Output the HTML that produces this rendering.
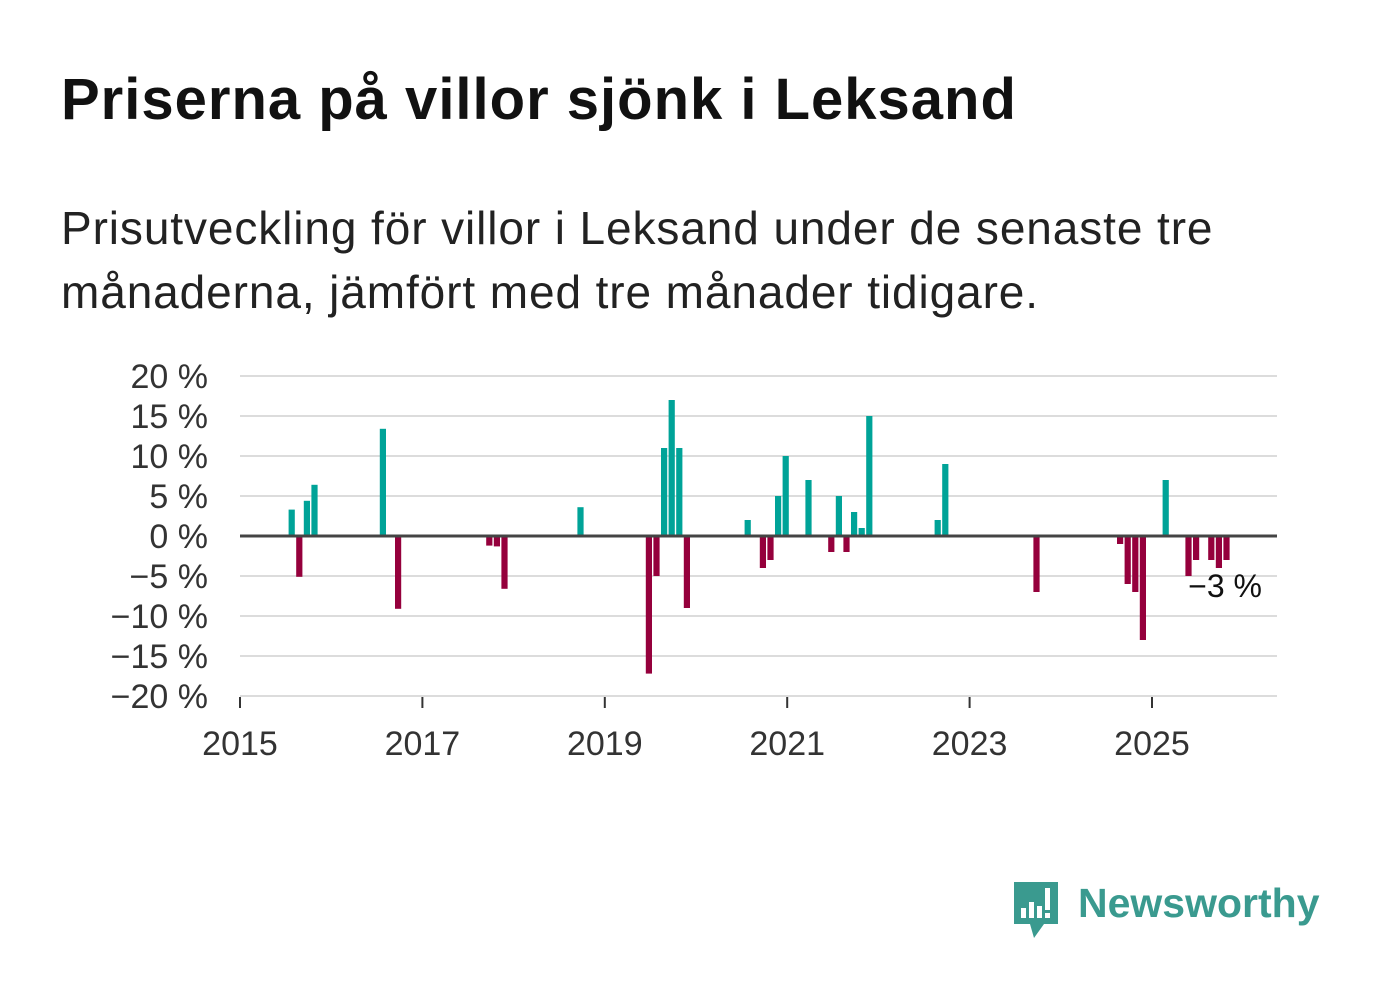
<!DOCTYPE html>
<html><head><meta charset="utf-8">
<style>
body{margin:0;background:#fff;width:1382px;height:999px;overflow:hidden;font-family:"Liberation Sans","DejaVu Sans",sans-serif;}
#title{position:absolute;left:61px;top:66px;font-size:58px;font-weight:bold;color:#111;margin:0;letter-spacing:1px}
#sub{position:absolute;left:61px;top:196px;font-size:46px;color:#222;line-height:64px;width:1280px;margin:0;letter-spacing:0.9px}
svg{position:absolute;left:0;top:0}
</style></head><body>
<h1 id="title">Priserna på villor sjönk i Leksand</h1>
<p id="sub">Prisutveckling för villor i Leksand under de senaste tre<br>månaderna, jämfört med tre månader tidigare.</p>
<svg id="chart" width="1382" height="999"></svg>
<div style="position:absolute;left:1012px;top:880px;width:310px;height:60px">
 <svg width="50" height="60" style="position:absolute;left:0;top:0">
  <path d="M2 2 H46 V44 H32 L22 58 L18 44 H2 Z" fill="#3a9a8f"/>
  <rect x="9" y="28" width="5" height="10" fill="#fff"/><rect x="17" y="22" width="5" height="16" fill="#fff"/><rect x="25" y="26" width="5" height="12" fill="#fff"/><rect x="33" y="8" width="5" height="22" fill="#fff"/><rect x="33" y="33" width="5" height="5" fill="#fff"/>
 </svg>
 <div style="position:absolute;left:66px;top:0px;font-size:41px;font-weight:bold;color:#3a9a8f">Newsworthy</div>
</div>
<script>
const monthIdx=[6,7,8,9,18,20,32,33,34,44,53,54,55,56,57,58,66,68,69,70,71,74,77,78,79,80,81,82,91,92,104,115,116,117,118,121,124,125,127,128,129];
const values=[3.3,-5.1,4.4,6.4,13.4,-9.1,-1.2,-1.3,-6.6,3.6,-17.2,-5,11,17,11,-9,2,-4,-3,5,10,7,-2,5,-2,3,1,15,2,9,-7,-1,-6,-7,-13,7,-5,-3,-3,-4,-3];
const yTicks=[20,15,10,5,0,-5,-10,-15,-20];
const yTickLabels=["20 %","15 %","10 %","5 %","0 %","−5 %","−10 %","−15 %","−20 %"];
const xYears=[2015,2017,2019,2021,2023,2025];
const lastLabel="−3 %";
const NS="http://www.w3.org/2000/svg";
const svg=document.getElementById('chart');
const X0=240,PX_MONTH=7.6,Y0=536,PX_PCT=8,XR=1277;
const xm=i=>X0+i*PX_MONTH;
const y=v=>Y0-v*PX_PCT;
function mk(t,a){const e=document.createElementNS(NS,t);for(const k in a)e.setAttribute(k,a[k]);svg.appendChild(e);return e;}
yTicks.forEach((v,k)=>{
 if(v!==0){const l=mk('line',{x1:X0,x2:XR,y1:y(v),y2:y(v),stroke:'#dcdcdc','stroke-width':2});
 
 }
 const t=mk('text',{x:208,y:y(v)+12,'text-anchor':'end','font-size':34,fill:'#333','font-family':'Liberation Sans, sans-serif'});
 t.textContent=yTickLabels[k];
 
 
});
monthIdx.forEach((m,k)=>{
 const v=values[k];
 const r=mk('rect',{x:xm(m)+3,width:6.2,y:Math.min(y(v),Y0),height:Math.abs(y(v)-Y0),fill:v>=0?'#00a398':'#95003c'});
 
 
});
const zl=mk('line',{x1:X0,x2:XR,y1:Y0,y2:Y0,stroke:'#444','stroke-width':3});


xYears.forEach(yr=>{
 const x=xm((yr-2015)*12);
 const tk=mk('line',{x1:x,x2:x,y1:697,y2:708,stroke:'#333','stroke-width':2});
 
 
 const t=mk('text',{x:x,y:755,'text-anchor':'middle','font-size':34,fill:'#333','font-family':'Liberation Sans, sans-serif'});
 t.textContent=yr;
 
 
});
const lv=values[values.length-1];
const lt=mk('text',{x:1262,y:y(lv)+37,'text-anchor':'end','font-size':32,fill:'#111','font-family':'Liberation Sans, sans-serif'});
lt.textContent=lastLabel;


</script>
</body></html>
